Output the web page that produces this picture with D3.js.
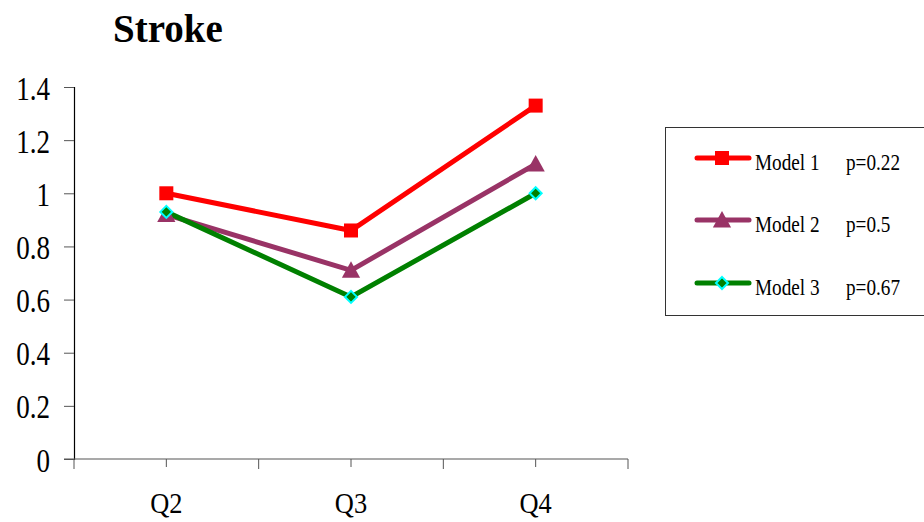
<!DOCTYPE html>
<html>
<head>
<meta charset="utf-8">
<script src="https://cdn.jsdelivr.net/npm/d3@7"></script>
<style>
  html, body { margin: 0; padding: 0; background: #fff; }
  svg { display: block; }
</style>
</head>
<body>
<svg id="chart" width="924" height="522"></svg>
<script>
// Categories and series values
const categories = ["Q2", "Q3", "Q4"];
const model1 = [1.00, 0.86, 1.33];
const model2 = [0.92, 0.71, 1.11];
const model3 = [0.93, 0.61, 1.00];
const seriesNames = ["Model 1", "Model 2", "Model 3"];
const pValues = ["p=0.22", "p=0.5", "p=0.67"];
const yTicks = [0, 0.2, 0.4, 0.6, 0.8, 1, 1.2, 1.4];

const series = [
  { name: seriesNames[0], p: pValues[0], values: model1, color: "#ff0000", marker: "square" },
  { name: seriesNames[1], p: pValues[1], values: model2, color: "#993366", marker: "triangle" },
  { name: seriesNames[2], p: pValues[2], values: model3, color: "#008000", marker: "diamond" }
];

const SERIF = '"Liberation Serif", "Times New Roman", serif';
const svg = d3.select("#chart");
const plot = { left: 74, right: 628, top: 87, bottom: 459 };

const x = d3.scaleBand().domain(categories).range([plot.left, plot.right]);
const y = d3.scaleLinear().domain([0, 1.4]).range([plot.bottom, plot.top]);
const cx = d => x(d) + x.bandwidth() / 2;

// Narrow serif label: placed by transform, squeezed horizontally
function label(parent, tx, ty, str, size, sx, anchor) {
  return parent.append("text")
    .attr("transform", `translate(${tx},${ty}) scale(${sx},1)`)
    .attr("text-anchor", anchor || "start")
    .style("font-family", SERIF)
    .style("font-size", size + "px")
    .attr("fill", "#000")
    .text(str);
}

// Title
svg.append("text")
  .attr("x", 113).attr("y", 42)
  .style("font-family", SERIF)
  .style("font-size", "39px").style("font-weight", "bold")
  .attr("fill", "#000")
  .text("Stroke");

// Y axis
const yAxis = svg.append("g")
  .attr("transform", `translate(${plot.left},0)`)
  .call(d3.axisLeft(y).tickValues(yTicks).tickSize(10).tickFormat(() => ""));
yAxis.select(".domain").attr("stroke", "#000").attr("stroke-width", 1.2);
yAxis.selectAll(".tick line").attr("stroke", "#555");
yAxis.selectAll(".tick").each(function (d) {
  label(d3.select(this), -24, 12, d3.format("")(+d.toFixed(1)), 33, 0.82, "end");
});

// X axis: long ticks between categories, short ticks at category centres
const xg = svg.append("g").attr("transform", `translate(0,${plot.bottom})`);
xg.append("line")
  .attr("x1", plot.left - 10).attr("x2", plot.right)
  .attr("stroke", "#555").attr("stroke-width", 1.2);
const bounds = [plot.left].concat(categories.map(c => x(c) + x.bandwidth()));
xg.selectAll("line.major").data(bounds).join("line").attr("class", "major")
  .attr("x1", d => d).attr("x2", d => d).attr("y1", 0).attr("y2", 10)
  .attr("stroke", "#555");
xg.selectAll("line.minor").data(categories).join("line").attr("class", "minor")
  .attr("x1", d => cx(d)).attr("x2", d => cx(d))
  .attr("y1", 0).attr("y2", 8).attr("stroke", "#555");
categories.forEach(c => label(xg, cx(c), 54, c, 30, 0.88, "middle"));

function drawMarker(g, type, color, size) {
  if (type === "square") {
    g.append("rect").attr("x", -size / 2).attr("y", -size / 2)
      .attr("width", size).attr("height", size).attr("fill", color);
  } else if (type === "triangle") {
    const s = size * 0.62;
    g.append("path").attr("d", `M0,${-s * 1.05}L${s * 1.05},${s * 0.85}L${-s * 1.05},${s * 0.85}Z`)
      .attr("fill", color);
  } else {
    const s = size * 0.5;
    g.append("path").attr("d", `M0,${-s}L${s},0L0,${s}L${-s},0Z`)
      .attr("fill", color).attr("stroke", "#00ffff").attr("stroke-width", 2);
  }
}

const line = d3.line().x((d, i) => cx(categories[i])).y(d => y(d));

series.forEach(s => {
  svg.append("path")
    .attr("d", line(s.values))
    .attr("fill", "none")
    .attr("stroke", s.color)
    .attr("stroke-width", 5)
    .attr("stroke-linejoin", "miter");
});
series.forEach(s => {
  s.values.forEach((v, i) => {
    const g = svg.append("g").attr("transform", `translate(${cx(categories[i])},${y(v)})`);
    drawMarker(g, s.marker, s.color, s.marker === "diamond" ? 12 : 14);
  });
});

// Legend
const lg = svg.append("g");
lg.append("rect")
  .attr("x", 665.5).attr("y", 127.5).attr("width", 280).attr("height", 188)
  .attr("fill", "#fff").attr("stroke", "#333").attr("stroke-width", 1);
const rowY = [158, 220, 283];
series.forEach((s, i) => {
  const ry = rowY[i];
  lg.append("line").attr("x1", 697).attr("x2", 749).attr("y1", ry).attr("y2", ry)
    .attr("stroke", s.color).attr("stroke-width", 5).attr("stroke-linecap", "round");
  const g = lg.append("g").attr("transform", `translate(722,${ry})`);
  drawMarker(g, s.marker, s.color, s.marker === "diamond" ? 12 : 14);
  label(lg, 755, ry + 12, s.name, 24, 0.8);
  label(lg, 846, ry + 12, s.p, 24, 0.8);
});
</script>
</body>
</html>
